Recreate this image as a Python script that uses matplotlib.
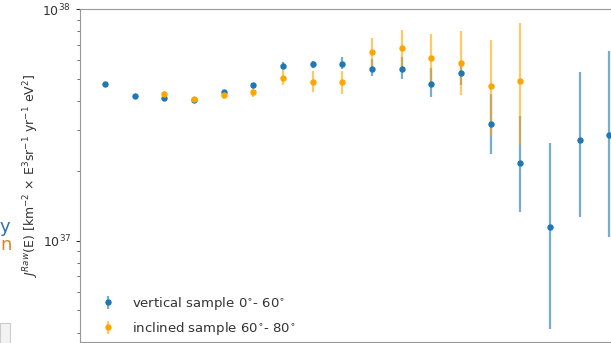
import matplotlib
matplotlib.use("Agg")
import matplotlib.pyplot as plt
import numpy as np

# energy bin index (x axis not labelled in the crop)
bins_vertical = list(range(18))
vert_val = [4.73e37, 4.20e37, 4.12e37, 4.05e37, 4.40e37, 4.70e37, 5.69e37, 5.78e37, 5.78e37,
            5.53e37, 5.50e37, 4.76e37, 5.28e37, 3.18e37, 2.17e37, 1.15e37, 2.71e37, 2.86e37]
vert_lo = [4.66e37, 4.14e37, 4.05e37, 3.98e37, 4.32e37, 4.60e37, 5.50e37, 5.58e37, 5.50e37,
           5.14e37, 4.98e37, 4.16e37, 4.69e37, 2.36e37, 1.33e37, 4.15e36, 1.26e37, 1.04e37]
vert_hi = [4.80e37, 4.26e37, 4.19e37, 4.12e37, 4.48e37, 4.80e37, 5.88e37, 5.98e37, 6.20e37,
           6.08e37, 6.20e37, 5.56e37, 5.96e37, 4.29e37, 3.45e37, 2.63e37, 5.32e37, 6.56e37]

bins_inclined = list(range(2, 15))
incl_val = [4.30e37, 4.07e37, 4.25e37, 4.38e37, 5.06e37, 4.82e37, 4.84e37,
            6.49e37, 6.76e37, 6.14e37, 5.84e37, 4.63e37, 4.90e37]
incl_lo = [4.20e37, 3.98e37, 4.10e37, 4.18e37, 4.69e37, 4.37e37, 4.29e37,
           5.50e37, 5.50e37, 4.83e37, 4.24e37, 2.83e37, 2.58e37]
incl_hi = [4.42e37, 4.18e37, 4.40e37, 4.55e37, 5.61e37, 5.39e37, 5.39e37,
           7.49e37, 8.14e37, 7.80e37, 8.01e37, 7.37e37, 8.70e37]

labels = ["vertical sample 0$^{\\circ}$- 60$^{\\circ}$", "inclined sample 60$^{\\circ}$- 80$^{\\circ}$"]

W, H = 611, 343
fig = plt.figure(figsize=(W / 100, H / 100), dpi=100)
ax = fig.add_axes([80 / W, 1 / H, (625 - 80) / W, (342 - 9) / H])

def err(val, lo, hi):
    v = np.array(val); return v, np.vstack([v - np.array(lo), np.array(hi) - v])

v, e = err(vert_val, vert_lo, vert_hi)
c1 = ax.errorbar(bins_vertical, v, yerr=e, fmt='o', color='#1f77b4', ms=3.6,
                 elinewidth=1.6, capsize=0, label=labels[0])
c1[2][0].set_alpha(0.6)
v, e = err(incl_val, incl_lo, incl_hi)
c2 = ax.errorbar(bins_inclined, v, yerr=e, fmt='o', color='orange', ms=3.6,
                 elinewidth=1.6, capsize=0, label=labels[1])
c2[2][0].set_alpha(0.6)

ax.set_yscale('log')
ax.set_ylim(3.65e36, 1e38)
ax.set_xlim(-0.843, 17.53)
ax.set_xticks([])
ax.tick_params(axis='y', labelsize=9, colors='#333333', length=3)
ax.tick_params(axis='y', which='minor', length=2, colors='#555555')
for s in ax.spines.values():
    s.set_color('#999999')
    s.set_linewidth(0.8)
ax.set_ylabel("$J^{Raw}$(E) [km$^{-2}$ $\\times$ E$^{3}$sr$^{-1}$ yr$^{-1}$ eV$^{2}$]",
              fontsize=9, color='#333333')
ax.yaxis.set_label_coords(-(80 - 41) / (625 - 80), 0.5)

leg = ax.legend(loc='lower left', frameon=False, fontsize=9.5, handletextpad=0.8,
                bbox_to_anchor=(0.005, -0.02), borderaxespad=0.5, labelspacing=0.6)
for t in leg.get_texts():
    t.set_color('#333333')

# fragments of the surrounding slide on the left edge
fig.text(0.0, 1 - 227 / H, "y", color='#2e6fb5', fontsize=13, va='center', ha='left')
fig.text(0.0, 1 - 245 / H, "n", color='#d9822b', fontsize=13, va='center', ha='left')
fig.patches.append(plt.Rectangle((0, 0), 10 / W, 20 / H, transform=fig.transFigure,
                                 facecolor='#f2f2f2', edgecolor='#cccccc', lw=0.8))

fig.savefig("out.png", dpi=100)
